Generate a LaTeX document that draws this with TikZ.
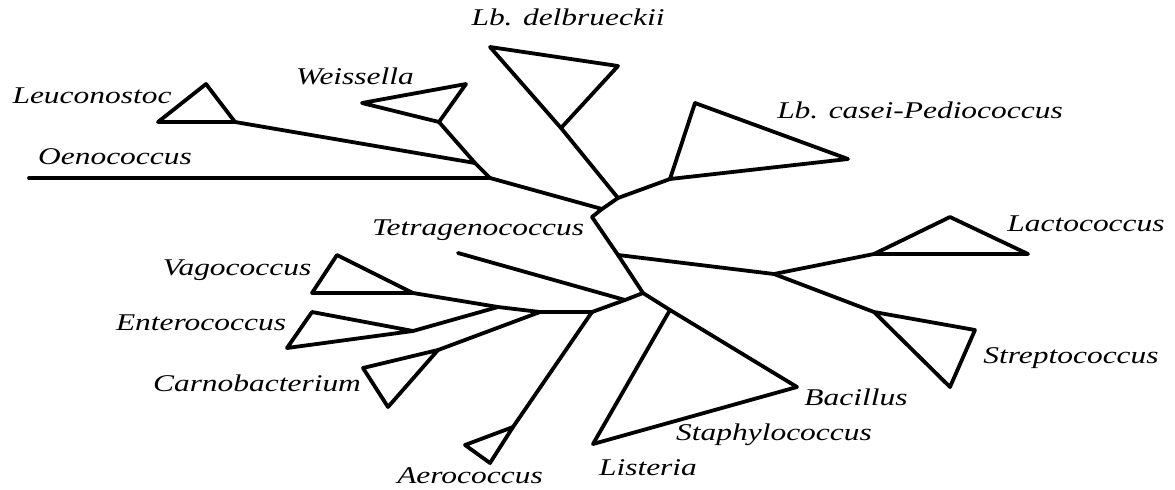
\documentclass[tikz,border=0pt]{standalone}
\usepackage{fontspec}
\setmainfont{Liberation Serif}
\usepackage{tikz}
\usetikzlibrary{positioning, calc}
\newcommand{\taxname}[1]{\scalebox{1.31}[1]{\itshape #1}}

\begin{document}
\begin{tikzpicture}[
        x=0.5pt, y=-0.5pt,
        branch/.style={line width=1.9pt, line join=round, line cap=round, color=black},
        clade/.style={line width=1.9pt, line join=round, draw=black, fill=white},
        taxon/.style={font=\fontsize{12}{14}\selectfont, inner sep=0pt, text height=1.6ex, text depth=0.4ex}
        ]
        \useasboundingbox (0,0) rectangle (1175,489);

        % Internal nodes
        \coordinate (nLW) at (475,163);
        \coordinate (nOe) at (490,178);
        \coordinate (nA)  at (602,209);
        \coordinate (nLb) at (618,198);
        \coordinate (nB)  at (592,217);
        \coordinate (nLS) at (618,255);
        \coordinate (nC)  at (643,293);
        \coordinate (nT)  at (625,300);
        \coordinate (nD)  at (592,312);
        \coordinate (nCa) at (540,312);
        \coordinate (nVE) at (498,307);
        \coordinate (nLc) at (774,274);

        % Tips and clade triangles
        \coordinate (oen)  at (29,178);
        \coordinate (tet)  at (458,253);
        \coordinate (leuA) at (235,122); \coordinate (leuB) at (158,122); \coordinate (leuC) at (206,84);
        \coordinate (weiA) at (439,122); \coordinate (weiB) at (362,103); \coordinate (weiC) at (466,84);
        \coordinate (delA) at (561,128); \coordinate (delB) at (490,47);  \coordinate (delC) at (618,66);
        \coordinate (casA) at (670,179); \coordinate (casB) at (695,103); \coordinate (casC) at (848,159);
        \coordinate (lacA) at (874,254); \coordinate (lacB) at (950,217); \coordinate (lacC) at (1028,254);
        \coordinate (strA) at (874,312); \coordinate (strB) at (975,330); \coordinate (strC) at (950,387);
        \coordinate (staA) at (670,310); \coordinate (staB) at (797,387); \coordinate (staC) at (593,444);
        \coordinate (vagA) at (413,293); \coordinate (vagB) at (337,255); \coordinate (vagC) at (312,293);
        \coordinate (entA) at (413,331); \coordinate (entB) at (312,312); \coordinate (entC) at (287,348);
        \coordinate (carA) at (438,350); \coordinate (carB) at (363,368); \coordinate (carC) at (388,407);
        \coordinate (aerA) at (513,427); \coordinate (aerB) at (465,445); \coordinate (aerC) at (490,463);

        % Clades
        \foreach \c in {leu, wei, del, cas, lac, str, sta, vag, ent, car, aer} {
            \draw[clade] (\c A) -- (\c B) -- (\c C) -- cycle;
        }

        % Branches
        \draw[branch] (leuA) -- (nLW);
        \draw[branch] (weiA) -- (nLW);
        \draw[branch] (nLW) -- (nOe);
        \draw[branch] (oen) -- (nOe);
        \draw[branch] (nOe) -- (nA);
        \draw[branch] (nA) -- (nLb);
        \draw[branch] (nLb) -- (delA);
        \draw[branch] (nLb) -- (casA);
        \draw[branch] (nA) -- (nB);
        \draw[branch] (nB) -- (nLS);
        \draw[branch] (nLS) -- (nC);
        \draw[branch] (nLS) -- (nLc);
        \draw[branch] (nLc) -- (lacA);
        \draw[branch] (nLc) -- (strA);
        \draw[branch] (nC) -- (staA);
        \draw[branch] (nC) -- (nT);
        \draw[branch] (nT) -- (tet);
        \draw[branch] (nT) -- (nD);
        \draw[branch] (nD) -- (aerA);
        \draw[branch] (nD) -- (nCa);
        \draw[branch] (nCa) -- (carA);
        \draw[branch] (nCa) -- (nVE);
        \draw[branch] (nVE) -- (vagA);
        \draw[branch] (nVE) -- (entA);

        % Labels
        \node[taxon] (lDel) at (568,20)  {\taxname{Lb. delbrueckii}};
        \node[taxon] (lLeu) at (92,98)   {\taxname{Leuconostoc}};
        \node[taxon] (lWei) at (355,79)  {\taxname{Weissella}};
        \node[taxon] (lOen) at (115,159) {\taxname{Oenococcus}};
        \node[taxon] (lCas) at (920,113) {\taxname{Lb. casei-Pediococcus}};
        \node[taxon] (lTet) at (478,230) {\taxname{Tetragenococcus}};
        \node[taxon] (lVag) at (237,270) {\taxname{Vagococcus}};
        \node[taxon] (lEnt) at (201,325) {\taxname{Enterococcus}};
        \node[taxon] (lCar) at (257,386) {\taxname{Carnobacterium}};
        \node[taxon] (lAer) at (470,478) {\taxname{Aerococcus}};
        \node[taxon] (lLis) at (648,470) {\taxname{Listeria}};
        \node[taxon] (lSta) at (774,435) {\taxname{Staphylococcus}};
        \node[taxon] (lBac) at (856,400) {\taxname{Bacillus}};
        \node[taxon] (lStr) at (1071,358) {\taxname{Streptococcus}};
        \node[taxon] (lLac) at (1086,226) {\taxname{Lactococcus}};

\end{tikzpicture}
\end{document}
